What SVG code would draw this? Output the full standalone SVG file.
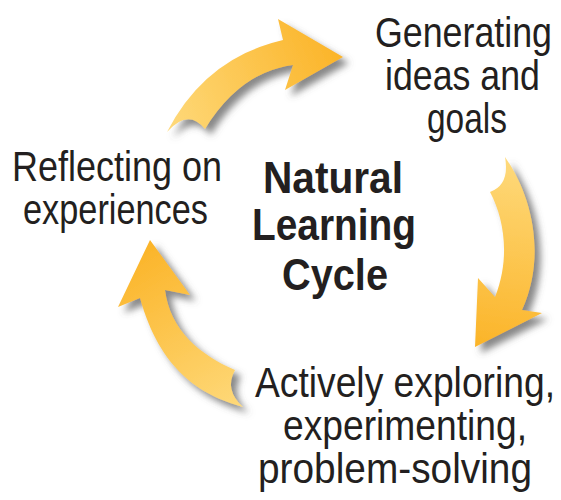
<svg xmlns="http://www.w3.org/2000/svg" width="561" height="500" viewBox="0 0 561 500">
<style>
.lbl{font-family:"Liberation Sans Narrow","Liberation Sans",Arial,sans-serif;font-size:42px;fill:#231f20;}
.ttl{font-family:"Liberation Sans Narrow","Liberation Sans",Arial,sans-serif;font-size:45px;font-weight:bold;fill:#231f20;}
</style>
<defs>
<filter id="sh" x="-30%" y="-30%" width="160%" height="160%">
<feGaussianBlur in="SourceAlpha" stdDeviation="3.5"/>
<feOffset dx="6" dy="6" result="b"/>
<feFlood flood-color="#555" flood-opacity="0.7"/>
<feComposite in2="b" operator="in"/>
<feMerge><feMergeNode/><feMergeNode in="SourceGraphic"/></feMerge>
</filter>
<linearGradient id="gTop" gradientUnits="userSpaceOnUse" x1="167" y1="130" x2="343" y2="57">
<stop offset="0" stop-color="#fed97a"/><stop offset="1" stop-color="#fbb428"/></linearGradient>
<linearGradient id="gRight" gradientUnits="userSpaceOnUse" x1="505" y1="160" x2="475" y2="347">
<stop offset="0" stop-color="#fed97a"/><stop offset="1" stop-color="#fbb428"/></linearGradient>
<linearGradient id="gLeft" gradientUnits="userSpaceOnUse" x1="243" y1="407" x2="150" y2="240">
<stop offset="0" stop-color="#fed97a"/><stop offset="1" stop-color="#fbb428"/></linearGradient>
</defs>
<rect width="561" height="500" fill="#fff"/>
<g id="connectors" filter="url(#sh)">
<path id="arrow-top" fill="url(#gTop)" d="M167,132 Q205,58 283,40 L278,19 L343,57 L285,90 L293,65 Q240,72 205,129 Q188,108 167,132 Z"/>
<path id="arrow-right" fill="url(#gRight)" d="M505,157 C535,200 545,260 522,310 L542,313 L475,347 L478,278 L495,297 C510,260 505,220 490,192 Q510,185 505,157 Z"/>
<path id="arrow-left" fill="url(#gLeft)" d="M150,240 L190,295 L165,290 C170,330 200,355 235,370 Q224,390 243,407 C200,395 160,370 140,298 L118,307 Z"/>
</g>
<g id="title">
<text class="ttl" x="263" y="193" textLength="140" lengthAdjust="spacingAndGlyphs">Natural</text>
<text class="ttl" x="252" y="240" textLength="164" lengthAdjust="spacingAndGlyphs">Learning</text>
<text class="ttl" x="282" y="290" textLength="106" lengthAdjust="spacingAndGlyphs">Cycle</text>
</g>
<g id="node-generating">
<text class="lbl" x="375" y="47" textLength="177" lengthAdjust="spacingAndGlyphs">Generating</text>
<text class="lbl" x="385" y="90" textLength="155" lengthAdjust="spacingAndGlyphs">ideas and</text>
<text class="lbl" x="427" y="133" textLength="80" lengthAdjust="spacingAndGlyphs">goals</text>
</g>
<g id="node-exploring">
<text class="lbl" x="255" y="397" textLength="300" lengthAdjust="spacingAndGlyphs">Actively exploring,</text>
<text class="lbl" x="283" y="440" textLength="244" lengthAdjust="spacingAndGlyphs">experimenting,</text>
<text class="lbl" x="258" y="483" textLength="274" lengthAdjust="spacingAndGlyphs">problem-solving</text>
</g>
<g id="node-reflecting">
<text class="lbl" x="12" y="181" textLength="210" lengthAdjust="spacingAndGlyphs">Reflecting on</text>
<text class="lbl" x="23" y="224" textLength="185" lengthAdjust="spacingAndGlyphs">experiences</text>
</g>
</svg>
